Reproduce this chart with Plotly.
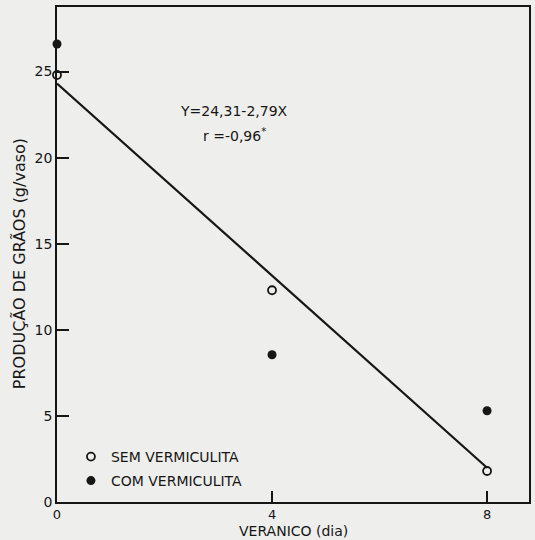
import plotly.graph_objects as go

# Data
veranico = [0, 4, 8]
sem_vermiculita = [24.8, 12.3, 1.8]
com_vermiculita = [26.6, 8.55, 5.3]
reg_x = [0, 8]
intercept = 24.31
slope = -2.79
reg_y = [intercept + slope * x for x in reg_x]

x_ticks = [0, 4, 8]
y_ticks = [0, 5, 10, 15, 20, 25]

W, H = 535, 540
L, R, T, B = 57, 4, 7, 38
PW, PH = W - L - R, H - T - B

INK = "#161616"
PAPER = "#eeeeec"
FONT = "DejaVu Sans"

def px2paper_x(px):
    return (px - L) / PW

def py2paper_y(py):
    return (H - B - py) / PH

fig = go.Figure()

fig.add_trace(go.Scatter(
    x=reg_x, y=reg_y, mode="lines",
    line=dict(color=INK, width=2.2),
    showlegend=False, hoverinfo="skip",
))

fig.add_trace(go.Scatter(
    x=veranico, y=sem_vermiculita, mode="markers",
    name="SEM VERMICULITA",
    marker=dict(symbol="circle-open", size=8, color=INK, line=dict(width=1.8, color=INK)),
    cliponaxis=False, legend="legend",
))

fig.add_trace(go.Scatter(
    x=veranico, y=com_vermiculita, mode="markers",
    name="COM VERMICULITA",
    marker=dict(symbol="circle", size=9, color=INK),
    cliponaxis=False, legend="legend2",
))

axis_common = dict(
    showgrid=False, zeroline=False,
    showline=True, linecolor=INK, linewidth=1.5, mirror=True,
    ticks="inside", tickcolor=INK, tickwidth=1.5,
)

fig.update_xaxes(
    range=[0, 8.78], tickvals=x_ticks, ticktext=[str(v) for v in x_ticks],
    ticklen=11, tickfont=dict(family=FONT, size=13, color=INK), **axis_common,
)
fig.update_yaxes(
    range=[0, 28.75], tickvals=y_ticks, ticktext=[str(v) for v in y_ticks],
    ticklen=12, tickfont=dict(family=FONT, size=14, color=INK), **axis_common,
)

legend_common = dict(
    font=dict(family=FONT, size=14, color=INK),
    bgcolor="rgba(0,0,0,0)", borderwidth=0,
    xanchor="left", yanchor="middle",
)

fig.update_layout(
    width=W, height=H,
    margin=dict(l=L, r=R, t=T, b=B, pad=0),
    paper_bgcolor=PAPER, plot_bgcolor=PAPER,
    font=dict(family=FONT, color=INK),
    legend=dict(x=px2paper_x(71), y=py2paper_y(457), **legend_common),
    legend2=dict(x=px2paper_x(71), y=py2paper_y(481), **legend_common),
    annotations=[
        dict(text="Y=24,31-2,79X", x=3.3, y=22.7, xref="x", yref="y",
             showarrow=False, font=dict(family=FONT, size=14, color=INK)),
        dict(text="r =-0,96<sup>*</sup>", x=3.3, y=21.3, xref="x", yref="y",
             showarrow=False, font=dict(family=FONT, size=14, color=INK)),
        dict(text="VERANICO (dia)", x=px2paper_x(295), y=py2paper_y(531),
             xref="paper", yref="paper", showarrow=False,
             xanchor="center", yanchor="middle",
             font=dict(family=FONT, size=14, color=INK)),
        dict(text="PRODUÇÃO DE GRÃOS (g/vaso)", x=px2paper_x(19), y=py2paper_y(264),
             xref="paper", yref="paper", showarrow=False, textangle=-90,
             xanchor="center", yanchor="middle",
             font=dict(family=FONT, size=16, color=INK)),
    ],
)

fig.write_html("out.html")
